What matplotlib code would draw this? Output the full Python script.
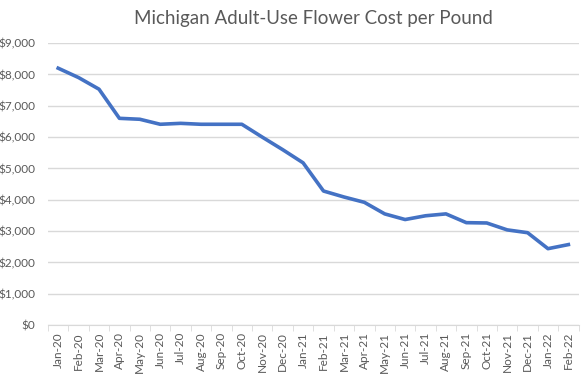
import numpy as np
import matplotlib.pyplot as plt
from matplotlib.ticker import FuncFormatter

months = ['Jan-20', 'Feb-20', 'Mar-20', 'Apr-20', 'May-20', 'Jun-20', 'Jul-20',
          'Aug-20', 'Sep-20', 'Oct-20', 'Nov-20', 'Dec-20', 'Jan-21', 'Feb-21',
          'Mar-21', 'Apr-21', 'May-21', 'Jun-21', 'Jul-21', 'Aug-21', 'Sep-21',
          'Oct-21', 'Nov-21', 'Dec-21', 'Jan-22', 'Feb-22']
cost = [8200, 7900, 7530, 6600, 6570, 6410, 6440, 6410, 6410, 6410, 6000, 5600,
        5180, 4280, 4090, 3920, 3550, 3370, 3490, 3550, 3270, 3260, 3040, 2950,
        2440, 2570]

plt.rcParams['font.family'] = ['Lato', 'DejaVu Sans']
grey = '#595959'

fig = plt.figure(figsize=(5.88, 3.75), dpi=100)
ax = fig.add_axes([0.0816, 0.133, 0.9024, 0.752])

x = np.arange(len(months))
ax.plot(x, cost, color='#4472C4', linewidth=2.6, solid_joinstyle='round')

ax.set_xlim(-0.5, len(months) - 0.5)
ax.set_ylim(0, 9000)
ax.set_yticks(np.arange(0, 9001, 1000))
ax.yaxis.set_major_formatter(FuncFormatter(lambda v, p: '${:,.0f}'.format(v)))
ax.grid(axis='y', color='#D9D9D9', linewidth=1)
ax.set_axisbelow(True)

ax.set_xticks(x)
ax.set_xticklabels(months, rotation=90, fontsize=8.5, color=grey)
ax.set_xticks(np.arange(-0.5, len(months), 1), minor=True)
ax.tick_params(axis='x', which='major', length=0, pad=5)
ax.tick_params(axis='x', which='minor', length=4, color='#D9D9D9')
ax.tick_params(axis='y', length=0, labelsize=8.5, labelcolor=grey, pad=9)

for s in ['top', 'right', 'left']:
    ax.spines[s].set_visible(False)
ax.spines['bottom'].set_color('#D9D9D9')

ax.set_title('Michigan Adult-Use Flower Cost per Pound', fontsize=13.5,
             color=grey, pad=14)

fig.savefig('out.png', dpi=100)
